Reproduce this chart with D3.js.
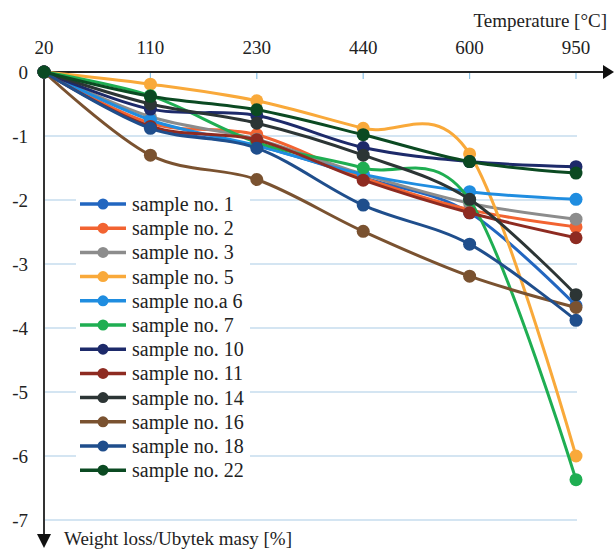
<!DOCTYPE html>
<html>
<head>
<meta charset="utf-8">
<script src="https://cdn.jsdelivr.net/npm/d3@7"></script>
<style>
  body { margin: 0; background: #fff; }
  svg text { font-family: 'Liberation Serif', 'Times New Roman', 'DejaVu Serif', serif; fill: #222; }
</style>
</head>
<body>
<div id="chart"></div>
<script>
var width = 614, height = 550;

var temps = ["20", "110", "230", "440", "600", "950"];
var yTicks = [0, -1, -2, -3, -4, -5, -6, -7];

var names = ["sample no. 1", "sample no. 2", "sample no. 3", "sample no. 5", "sample no.a 6", "sample no. 7",
             "sample no. 10", "sample no. 11", "sample no. 14", "sample no. 16", "sample no. 18", "sample no. 22"];
var colours = ["#2266c0", "#f26331", "#8c8c8c", "#f9a93a", "#1f8de0", "#1fae52",
               "#1d2a6a", "#8e2b21", "#2c3535", "#7a5230", "#1f4e8c", "#0b4a22"];

var s1  = [0, -0.85, -1.15, -1.65, -2.20, -3.65];
var s2  = [0, -0.80, -0.98, -1.65, -2.15, -2.42];
var s3  = [0, -0.70, -1.05, -1.60, -2.05, -2.30];
var s5  = [0, -0.19, -0.45, -0.88, -1.28, -6.00];
var s6  = [0, -0.75, -1.15, -1.60, -1.87, -1.99];
var s7  = [0, -0.37, -1.10, -1.50, -2.00, -6.37];
var s10 = [0, -0.58, -0.68, -1.18, -1.40, -1.48];
var s11 = [0, -0.85, -1.06, -1.69, -2.20, -2.59];
var s14 = [0, -0.50, -0.80, -1.30, -1.99, -3.48];
var s16 = [0, -1.30, -1.68, -2.49, -3.19, -3.68];
var s18 = [0, -0.88, -1.19, -2.08, -2.69, -3.88];
var s22 = [0, -0.38, -0.59, -0.98, -1.40, -1.58];
var series = [s1, s2, s3, s5, s6, s7, s10, s11, s14, s16, s18, s22];

var svg = d3.select("#chart")
    .append("svg")
    .attr("width", width)
    .attr("height", height);

var xScale = d3.scalePoint()
    .domain(temps)
    .range([44, 576]);
var yScale = d3.scaleLinear()
    .domain([0, -7])
    .range([72, 520]);

// gridlines
svg.selectAll(".grid")
    .data(yTicks.slice(1))
    .enter().append("line")
    .attr("x1", 44).attr("x2", 577)
    .attr("y1", function(d){ return yScale(d); })
    .attr("y2", function(d){ return yScale(d); })
    .style("stroke", "#c6ddee")
    .style("stroke-width", 1.5);

// small ticks under the x axis
svg.selectAll(".xtick")
    .data(temps.slice(1))
    .enter().append("line")
    .attr("x1", function(d){ return xScale(d); })
    .attr("x2", function(d){ return xScale(d); })
    .attr("y1", 72).attr("y2", 79)
    .style("stroke", "#8cc3e6")
    .style("stroke-width", 1.2);

// tick labels
svg.selectAll(".xlab")
    .data(temps)
    .enter().append("text")
    .attr("x", function(d){ return xScale(d); })
    .attr("y", 54)
    .attr("text-anchor", "middle")
    .style("font-size", "19px")
    .text(function(d){ return d; });

svg.selectAll(".ylab")
    .data(yTicks)
    .enter().append("text")
    .attr("x", 28)
    .attr("y", function(d){ return yScale(d); })
    .attr("dy", "0.35em")
    .attr("text-anchor", "end")
    .style("font-size", "19px")
    .text(function(d){ return d; });

// axes with arrows
svg.append("line")
    .attr("x1", 44).attr("x2", 604).attr("y1", 72).attr("y2", 72)
    .style("stroke", "#222").style("stroke-width", 2);
svg.append("path")
    .attr("d", "M603,65 L614,72 L603,79 Z")
    .style("fill", "#111");
svg.append("line")
    .attr("x1", 44).attr("x2", 44).attr("y1", 72).attr("y2", 536)
    .style("stroke", "#333").style("stroke-width", 2);
svg.append("path")
    .attr("d", "M37,534 L51,534 L44,548 Z")
    .style("fill", "#111");

svg.append("text")
    .attr("x", 607).attr("y", 27)
    .attr("text-anchor", "end")
    .style("font-size", "19px")
    .text("Temperature [°C]");
svg.append("text")
    .attr("x", 64).attr("y", 545)
    .style("font-size", "19px")
    .text("Weight loss/Ubytek masy [%]");

// series
var line = d3.line()
    .x(function(d, i){ return xScale(temps[i]); })
    .y(function(d){ return yScale(d); })
    .curve(d3.curveCardinal.tension(0));

var g = svg.append("g");
series.forEach(function(vals, k){
    g.append("path")
        .attr("d", line(vals))
        .style("fill", "none")
        .style("stroke", colours[k])
        .style("stroke-width", 3);
    g.selectAll(".pt" + k)
        .data(vals)
        .enter().append("circle")
        .attr("cx", function(d, i){ return xScale(temps[i]); })
        .attr("cy", function(d){ return yScale(d); })
        .attr("r", 6.5)
        .style("fill", colours[k]);
});

// legend
var leg = svg.append("g");
leg.append("rect")
    .attr("x", 76).attr("y", 191)
    .attr("width", 174).attr("height", 292)
    .style("fill", "#fff");

var items = leg.selectAll(".legend")
    .data(names)
    .enter().append("g")
    .attr("transform", function(d, i){ return "translate(0," + (204 + i * 24.2) + ")"; });
items.append("line")
    .attr("x1", 80).attr("x2", 126)
    .style("stroke", function(d, i){ return colours[i]; })
    .style("stroke-width", 3.5);
items.append("circle")
    .attr("cx", 103).attr("r", 5.5)
    .style("fill", function(d, i){ return colours[i]; });
items.append("text")
    .attr("x", 132)
    .attr("dy", "0.35em")
    .style("font-size", "20px")
    .text(function(d){ return d; });
</script>
</body>
</html>
